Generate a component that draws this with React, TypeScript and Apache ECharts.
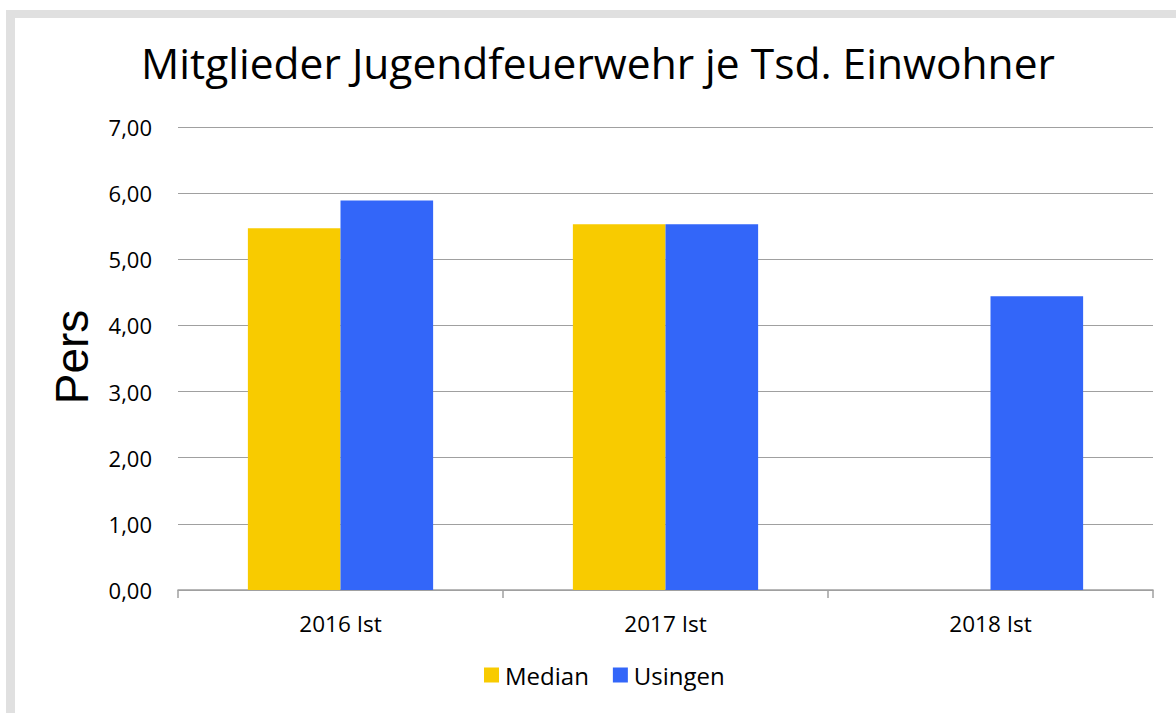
import React, { useEffect, useRef } from "react";
import * as echarts from "echarts";

const categories = ["2016 Ist", "2017 Ist", "2018 Ist"];
const medianValues: (number | null)[] = [5.47, 5.53, null];
const usingenValues: (number | null)[] = [5.89, 5.53, 4.44];
const yTicks = { min: 0, max: 7, interval: 1 };

const FONT = "'Open Sans', 'Noto Sans', sans-serif";

export default function App() {
  const ref = useRef<HTMLDivElement>(null);
  useEffect(() => {
    if (!ref.current) return;
    const chart = echarts.init(ref.current, null, { renderer: "svg" });
    chart.setOption({
      animation: false,
      backgroundColor: "#ffffff",
      title: {
        text: "Mitglieder Jugendfeuerwehr je Tsd. Einwohner",
        left: 593,
        textAlign: "center",
        top: 36,
        textStyle: { fontFamily: FONT, fontSize: 42.5, fontWeight: "normal", color: "#000" },
      },
      graphic: [
        { type: "rect", shape: { x: 6, y: 10, width: 1170, height: 8 }, style: { fill: "#e0e0e0" }, z: 10 },
        { type: "rect", shape: { x: 6, y: 10, width: 9, height: 703 }, style: { fill: "#e0e0e0" }, z: 10 },
        {
          type: "text",
          x: 72,
          y: 357,
          rotation: Math.PI / 2,
          style: {
            text: "Pers",
            fontFamily: "'Liberation Sans', Arial, sans-serif",
            fontSize: 46,
            fill: "#000",
            textAlign: "center",
            textVerticalAlign: "middle",
          },
        },
      ],
      legend: {
        bottom: 21,
        left: 479,
        itemWidth: 15,
        itemHeight: 15,
        itemGap: 24,
        icon: "rect",
        textStyle: { fontFamily: FONT, fontSize: 24, color: "#000", padding: [0, 0, 0, 1] },
        data: ["Median", "Usingen"],
      },
      grid: { left: 178, right: 23, top: 127, bottom: 123, containLabel: false },
      xAxis: {
        type: "category",
        data: categories,
        axisLine: { lineStyle: { color: "#a0a0a0", width: 1.5 } },
        axisTick: { show: true, length: 8, lineStyle: { color: "#a0a0a0", width: 1.5 } },
        axisLabel: { fontFamily: FONT, fontSize: 22.5, color: "#000", margin: 22 },
      },
      yAxis: {
        type: "value",
        min: yTicks.min,
        max: yTicks.max,
        interval: yTicks.interval,
        axisLine: { show: false },
        axisTick: { show: false },
        splitLine: { lineStyle: { color: "#a0a0a0", width: 1 } },
        axisLabel: {
          fontFamily: FONT,
          fontSize: 22,
          color: "#000",
          margin: 26,
          formatter: (v: number) => v.toFixed(2).replace(".", ","),
        },
      },
      series: [
        {
          name: "Median",
          type: "bar",
          data: medianValues,
          barGap: "0%",
          barCategoryGap: "43%",
          itemStyle: { color: "#F8CB00" },
        },
        {
          name: "Usingen",
          type: "bar",
          data: usingenValues,
          barGap: "0%",
          barCategoryGap: "43%",
          itemStyle: { color: "#3366F9" },
        },
      ],
    });
    return () => chart.dispose();
  }, []);
  return (
    <div
      ref={ref}
      style={{ position: "fixed", left: 0, top: 0, width: 1176, height: 713 }}
    />
  );
}
